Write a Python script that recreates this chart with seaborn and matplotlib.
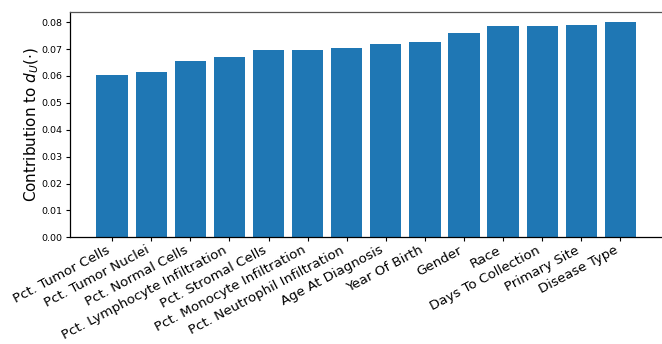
import matplotlib
matplotlib.use("Agg")
import matplotlib.pyplot as plt
import seaborn as sns
import pandas as pd

features = [
    "Pct. Tumor Cells", "Pct. Tumor Nuclei", "Pct. Normal Cells",
    "Pct. Lymphocyte Infiltration", "Pct. Stromal Cells",
    "Pct. Monocyte Infiltration", "Pct. Neutrophil Infiltration",
    "Age At Diagnosis", "Year Of Birth", "Gender", "Race",
    "Days To Collection", "Primary Site", "Disease Type",
]
contributions = [
    0.0604, 0.0616, 0.0657, 0.0671, 0.0697, 0.0697, 0.0705,
    0.0720, 0.0728, 0.0758, 0.0784, 0.0784, 0.0791, 0.0799,
]

df = pd.DataFrame({"feature": features, "contribution": contributions})

fig = plt.figure(figsize=(6.62, 3.44), dpi=100)
ax = fig.add_axes([69.5 / 662, 1 - 237.3 / 344, 593.5 / 662, (237.3 - 11.7) / 344])

sns.barplot(data=df, x="feature", y="contribution", color="#1f77b4",
            saturation=1, width=0.8, ax=ax)

n = len(features)
pad = 0.05 * (n - 1 + 0.8)
ax.set_xlim(-0.4 - pad, n - 1 + 0.4 + pad)
ax.set_ylim(0, max(contributions) * 1.05)
ax.set_yticks([i / 100 for i in range(9)])
ax.set_yticklabels([f"{i / 100:.2f}" for i in range(9)])
ax.tick_params(axis="y", labelsize=6.8, length=3, width=0.8, pad=2)
ax.tick_params(axis="x", labelsize=9.6, length=3, width=0.8, pad=1.5)
plt.setp(ax.get_xticklabels(), rotation=28, ha="right", rotation_mode="default")

ax.set_xlabel("")
ax.set_ylabel(r"Contribution to $d_U(\cdot)$", fontsize=11, labelpad=0.5)

for side in ["left", "bottom", "top", "right"]:
    ax.spines[side].set_linewidth(0.9)
ax.spines["top"].set_color("#555555")

fig.savefig("out.png", dpi=100)
